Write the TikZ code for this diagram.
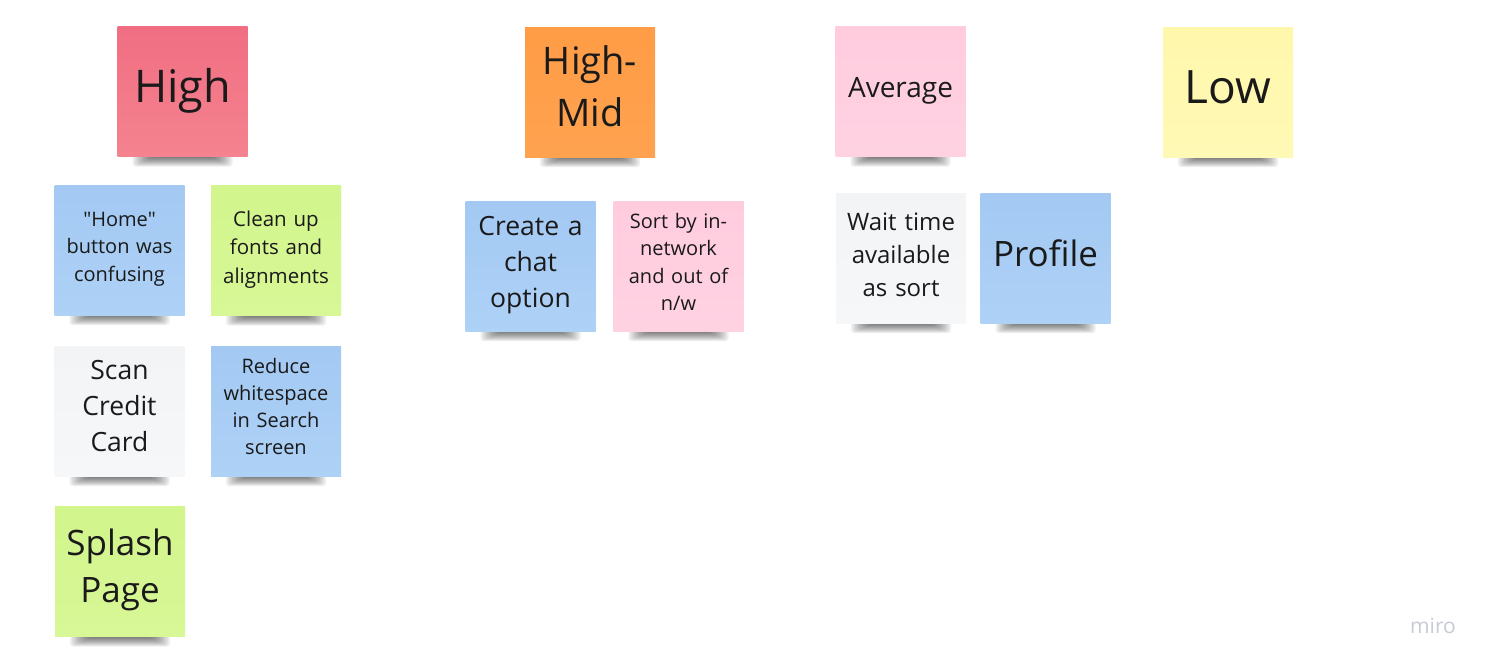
\documentclass[tikz,border=0pt]{standalone}
\usepackage{fontspec}
\setmainfont{Open Sans}[Ligatures=TeXOff]
\definecolor{nred}{HTML}{F16E82}
\definecolor{nredb}{HTML}{F4838F}
\definecolor{norange}{HTML}{FF9C46}
\definecolor{norangeb}{HTML}{FFA24F}
\definecolor{npink}{HTML}{FFCCDE}
\definecolor{npinkb}{HTML}{FFD2E2}
\definecolor{nyellow}{HTML}{FFF7AB}
\definecolor{nyellowb}{HTML}{FFF9B6}
\definecolor{nblue}{HTML}{A3C9F3}
\definecolor{nblueb}{HTML}{AED1F6}
\definecolor{ngreen}{HTML}{D2F58C}
\definecolor{ngreenb}{HTML}{D8F797}
\definecolor{nwhite}{HTML}{F3F4F6}
\definecolor{nwhiteb}{HTML}{F6F7F9}
\definecolor{ntext}{HTML}{1A1A1A}
\definecolor{miro}{HTML}{C8CBD6}
\newcommand{\fsz}[2]{\fontsize{#1pt}{#2pt}\selectfont}
\tikzset{
  note/.style={rectangle, minimum width=130pt, minimum height=130pt, inner sep=0pt},
  notetext/.style={inner sep=0pt, text width=124pt, align=center, text=ntext},
  shadowlayer/.style={fill=black, opacity=0.065, rounded corners=3pt},
  red/.style={top color=nred, bottom color=nredb},
  orange/.style={top color=norange, bottom color=norangeb},
  pink/.style={top color=npink, bottom color=npinkb},
  yellow/.style={top color=nyellow, bottom color=nyellowb},
  blue/.style={top color=nblue, bottom color=nblueb},
  green/.style={top color=ngreen, bottom color=ngreenb},
  white/.style={top color=nwhite, bottom color=nwhiteb},
}
% name, colour style, centre, font, raise, text
\newcommand{\sticky}[6]{%
  \begin{scope}[shift={(#3)}]
    \foreach \i in {0,...,9}{
      \fill[shadowlayer] (-50+2*\i,58) rectangle (50-2*\i,75-\i);
    }
  \end{scope}
  \node[note,#2] (#1) at (#3) {};
  \node[notetext, font=#4, yshift=#5] (#1-t) at (#1.center) {#6};
}
\begin{document}
\begin{tikzpicture}[x=1pt,y=-1pt]
\useasboundingbox[fill=white] (0,0) rectangle (1491,670);
% High column
\sticky{high}{red}{182.5,91.5}{\fsz{45}{61}}{1pt}{High}
\sticky{home}{blue}{119.5,250}{\fsz{20}{27.5}}{1pt}{"Home"\\button was\\confusing}
\sticky{clean}{green}{276,250.5}{\fsz{20.5}{28.5}}{1pt}{Clean up\\fonts and\\alignments}
\sticky{scan}{white}{119.5,411}{\fsz{26.5}{36}}{5pt}{Scan\\Credit\\Card}
\sticky{reduce}{blue}{276,411}{\fsz{20}{27}}{5pt}{Reduce\\whitespace\\in Search\\screen}
\sticky{splash}{green}{120,571.5}{\fsz{35}{47}}{2pt}{Splash\\Page}
% High-Mid column
\sticky{highmid}{orange}{590,92}{\fsz{38}{52}}{6pt}{High-\\Mid}
\sticky{chat}{blue}{530.5,266}{\fsz{26.5}{36}}{1pt}{Create a\\chat\\option}
\sticky{sort}{pink}{678.5,266}{\fsz{20}{27.5}}{4pt}{Sort by in-\\network\\and out of\\n/w}
% Average column
\sticky{avg}{pink}{900.5,91.5}{\fsz{28}{38}}{1pt}{Average}
\sticky{wait}{white}{901,258}{\fsz{24}{33}}{3pt}{Wait time\\available\\as sort}
\sticky{profile}{blue}{1045.5,258}{\fsz{35}{47}}{5pt}{Profile}
% Low column
\sticky{low}{yellow}{1228,92}{\fsz{46}{63}}{5pt}{Low}
% watermark
\node[text=miro, font=\fsz{21}{29}] (logo) at (1433,626) {miro};
\end{tikzpicture}
\end{document}
